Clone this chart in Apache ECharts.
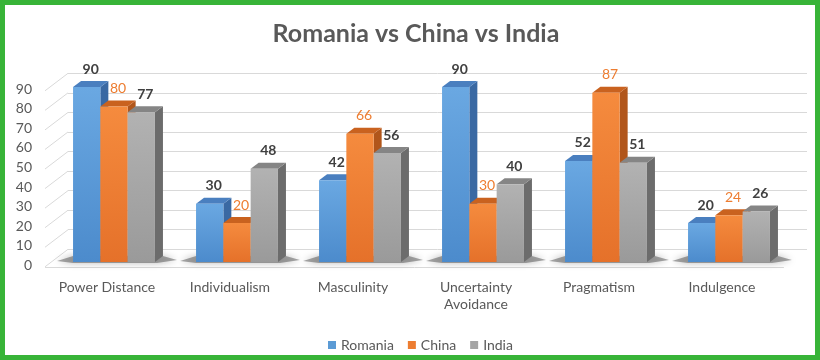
<!DOCTYPE html>
<html>
<head>
<meta charset="utf-8">
<script src="https://cdn.jsdelivr.net/npm/echarts@6/dist/echarts.min.js"></script>
<style>
html,body{margin:0;padding:0;background:#fff;}
#wrap{position:relative;width:820px;height:360px;}
#chart{width:820px;height:360px;}
#border{position:absolute;left:0;top:0;width:820px;height:360px;box-sizing:border-box;border:5px solid #38b438;pointer-events:none;}
</style>
</head>
<body>
<div id="wrap"><div id="chart"></div><div id="border"></div></div>
<script>
var categories = ['Power Distance', 'Individualism', 'Masculinity', 'Uncertainty\nAvoidance', 'Pragmatism', 'Indulgence'];
var romania = [90, 30, 42, 90, 52, 20];
var china = [80, 20, 66, 30, 87, 24];
var india = [77, 48, 56, 40, 51, 26];
var yTicks = [0, 10, 20, 30, 40, 50, 60, 70, 80, 90];
var seriesNames = ['Romania', 'China', 'India'];
var titleText = 'Romania vs China vs India';

var FONT = 'Lato, "Liberation Sans", sans-serif';
var DX = 8, DY = -6;

var palettes = [
  {main: '#5b9bd5', g0: '#6aa8e2', g1: '#4c8bcc', top: '#4a7fbf', side: '#3a69a3', label: '#404040', weight: 'bold'},
  {main: '#ed7d31', g0: '#f58b3e', g1: '#e5712a', top: '#c9621f', side: '#b1561b', label: '#ed7d31', weight: 'normal'},
  {main: '#a5a5a5', g0: '#b2b2b2', g1: '#9a9a9a', top: '#858585', side: '#6c6c6c', label: '#404040', weight: 'bold'}
];

function barSeries(k, values) {
  var p = palettes[k];
  return {
    type: 'custom',
    name: seriesNames[k],
    xAxisIndex: 0, yAxisIndex: 0,
    itemStyle: {color: p.main},
    encode: {x: 0, y: 1},
    data: values.map(function (v, i) { return [i, v]; }),
    renderItem: function (params, api) {
      var i = api.value(0), v = api.value(1);
      var base = api.coord([i, 0]);
      var top = api.coord([i, v]);
      var band = api.size([1, 0])[0];
      var bw = band * 0.222;
      var x0 = base[0] + (k - 1.5) * bw;
      var x1 = x0 + bw;
      var yT = top[1], yB = base[1];
      return {
        type: 'group',
        children: [
          {type: 'polygon', shape: {points: [[x1, yT], [x1 + DX, yT + DY], [x1 + DX, yB + DY], [x1, yB]]}, style: {fill: p.side}},
          {type: 'polygon', shape: {points: [[x0, yT], [x0 + DX, yT + DY], [x1 + DX, yT + DY], [x1, yT]]}, style: {fill: p.top}},
          {type: 'rect', shape: {x: x0, y: yT, width: bw, height: yB - yT},
            style: {fill: new echarts.graphic.LinearGradient(0, 0, 0, 1, [{offset: 0, color: p.g0}, {offset: 1, color: p.g1}])}},
          {type: 'text', style: {text: String(v), x: (x0 + x1) / 2 + 4, y: yT - 18, align: 'center', verticalAlign: 'middle',
            fill: p.label, fontSize: 14, fontWeight: p.weight, fontFamily: FONT}}
        ]
      };
    }
  };
}

var chart = echarts.init(document.getElementById('chart'), null, {renderer: 'canvas'});
var option = {
  animation: false,
  graphic: [
    {type: 'text', x: 416, y: 34, silent: true,
      style: {text: titleText, align: 'center', verticalAlign: 'middle',
        fontFamily: FONT, fontSize: 25, fontWeight: 'bold', fill: '#595959'}}
  ],
  legend: {
    data: seriesNames,
    left: 323, top: 333,
    icon: 'rect', itemWidth: 8, itemHeight: 8, itemGap: 14,
    textStyle: {fontFamily: FONT, fontSize: 14, color: '#595959'}
  },
  grid: [
    {left: 52.5, right: 29.5, top: 87, bottom: 98},   // bars (front face plane)
    {left: 68, right: 13, top: 73.3, bottom: 110.7},  // back wall
    {left: 36, right: 700, top: 89, bottom: 94.5},    // y labels
    {left: 45.5, right: 36.5, top: 100, bottom: 93}   // floor front edge + category labels
  ],
  xAxis: [
    {gridIndex: 0, type: 'category', data: categories, show: false},
    {gridIndex: 1, type: 'value', min: 0, max: 1, show: false},
    {gridIndex: 2, type: 'value', min: 0, max: 1, show: false},
    {gridIndex: 3, type: 'category', data: categories,
      axisLine: {lineStyle: {color: '#d9d9d9'}}, axisTick: {show: false},
      axisLabel: {margin: 12, fontFamily: FONT, fontSize: 14, color: '#595959', lineHeight: 17, interval: 0}}
  ],
  yAxis: [
    {gridIndex: 0, type: 'value', min: 0, max: 90, interval: 10, show: false},
    {gridIndex: 1, type: 'value', min: 0, max: 90, interval: 10,
      axisLine: {show: false}, axisTick: {show: false}, axisLabel: {show: false},
      splitLine: {show: true, lineStyle: {color: '#d9d9d9', width: 1}}},
    {gridIndex: 2, type: 'value', min: 0, max: 90, interval: 10,
      axisLine: {show: false}, axisTick: {show: false}, splitLine: {show: false},
      axisLabel: {margin: 4, fontFamily: FONT, fontSize: 14, color: '#595959'}},
    {gridIndex: 3, type: 'value', show: false}
  ],
  series: [
    {
      type: 'custom', name: 'wall', xAxisIndex: 1, yAxisIndex: 1, silent: true,
      data: yTicks.map(function (t) { return [0, t]; }),
      renderItem: function (params, api) {
        var p = api.coord([0, api.value(1)]);
        return {type: 'line', shape: {x1: p[0] - 23, y1: p[1] + 17.5, x2: p[0], y2: p[1]},
          style: {stroke: '#d9d9d9', lineWidth: 1}};
      }
    },
    {
      type: 'custom', name: 'shadow', xAxisIndex: 0, yAxisIndex: 0, silent: true,
      data: categories.map(function (c, i) { return [i, 0]; }),
      renderItem: function (params, api) {
        var base = api.coord([api.value(0), 0]);
        var band = api.size([1, 0])[0];
        var bw = band * 0.222;
        var xL = base[0] - 1.5 * bw, xR = base[0] + 1.5 * bw + DX;
        var y = base[1];
        return {type: 'polygon', shape: {points: [[xL - 16, y - 1], [xL, y - 6], [xR, y - 6], [xR + 14, y - 2], [xR - 6, y + 1], [xL, y + 1]]},
          style: {fill: 'rgba(80,80,80,0.5)', shadowBlur: 7, shadowColor: 'rgba(0,0,0,0.55)'}};
      }
    },
    barSeries(0, romania),
    barSeries(1, china),
    barSeries(2, india)
  ]
};
chart.setOption(option);
</script>
</body>
</html>
